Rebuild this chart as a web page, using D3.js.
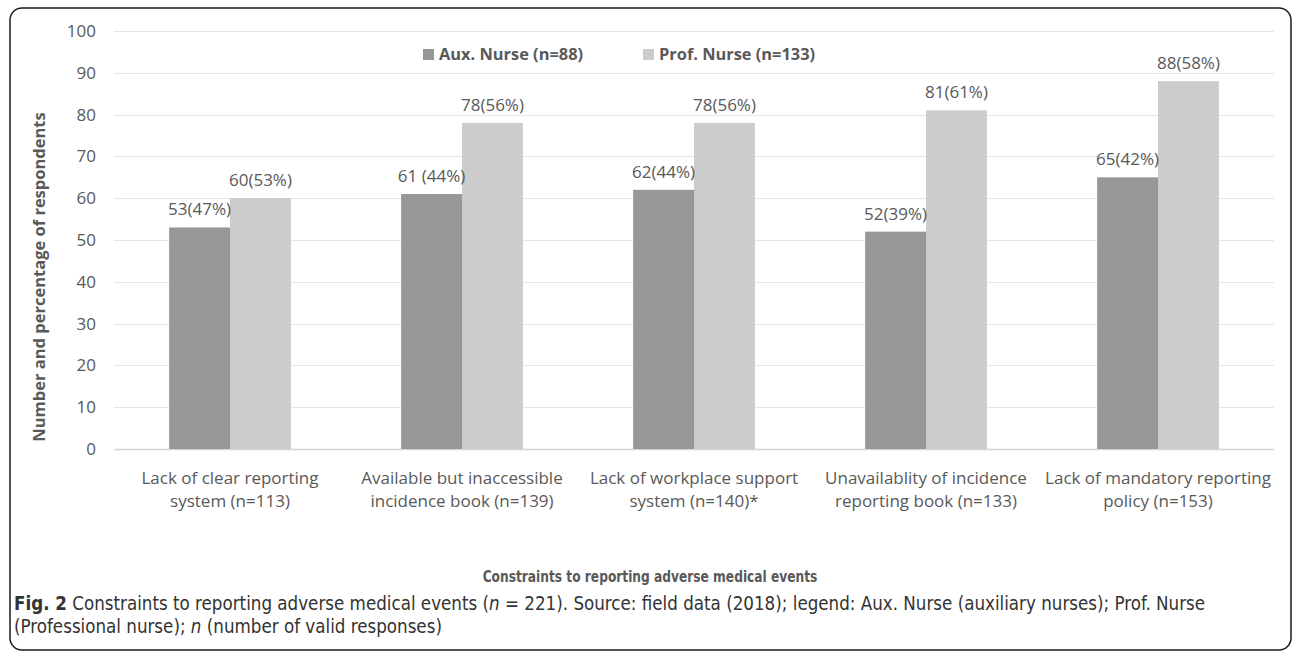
<!DOCTYPE html>
<html>
<head>
<meta charset="utf-8">
<script src="https://cdn.jsdelivr.net/npm/d3@7"></script>
<style>
  body { margin: 0; background: #fff; }
  text { font-family: "Open Sans", sans-serif; }
  .cap { font-family: "DejaVu Sans Condensed", "DejaVu Sans", sans-serif; font-stretch: condensed; }
</style>
</head>
<body>
<svg id="chart" width="1292" height="655"></svg>
<script>
const categories = [
  ["Lack of clear reporting", "system (n=113)"],
  ["Available but inaccessible", "incidence book (n=139)"],
  ["Lack of workplace support", "system (n=140)*"],
  ["Unavailablity of incidence", "reporting book (n=133)"],
  ["Lack of mandatory reporting", "policy (n=153)"]
];
const seriesNames = ["Aux. Nurse (n=88)", "Prof. Nurse (n=133)"];
const auxValues = [53, 61, 62, 52, 65];
const profValues = [60, 78, 78, 81, 88];
const auxLabels = ["53(47%)", "61 (44%)", "62(44%)", "52(39%)", "65(42%)"];
const profLabels = ["60(53%)", "78(56%)", "78(56%)", "81(61%)", "88(58%)"];
const yTicks = [0, 10, 20, 30, 40, 50, 60, 70, 80, 90, 100];

const colors = ["#979797", "#cbcccb"];
const textColor = "#595959";
const fs = "17px";

const svg = d3.select("#chart");
const margin = {top: 31, right: 16, bottom: 206, left: 114};
const W = 1292, H = 655;

// frame
svg.append("rect")
    .attr("x", 10).attr("y", 8)
    .attr("width", 1281).attr("height", 642)
    .attr("rx", 12)
    .attr("fill", "none")
    .attr("stroke", "#1a1a1a")
    .attr("stroke-width", 1.5);

const y = d3.scaleLinear()
    .domain([0, 100])
    .range([H - margin.bottom, margin.top]);

const x = d3.scaleBand()
    .domain(d3.range(categories.length))
    .range([margin.left, W - margin.right - 2])
    .paddingInner(0.475)
    .paddingOuter(0.2375);

const x1 = d3.scaleBand()
    .domain([0, 1])
    .range([0, x.bandwidth()]);

// gridlines
svg.append("g")
  .selectAll("line")
  .data(yTicks)
  .join("line")
    .attr("x1", margin.left)
    .attr("x2", W - margin.right - 2)
    .attr("y1", d => Math.round(y(d)) + 0.5)
    .attr("y2", d => Math.round(y(d)) + 0.5)
    .attr("stroke", d => d === 0 ? "#d4d4d4" : "#e5e5e5")
    .attr("stroke-width", d => d === 0 ? 1.5 : 1);

// y axis labels
const yAxis = d3.axisLeft(y).tickValues(yTicks).tickSize(0).tickPadding(0);
svg.append("g")
    .attr("transform", `translate(96,0)`)
    .call(yAxis)
    .call(g => g.select(".domain").remove())
    .call(g => g.selectAll("text")
        .attr("fill", textColor)
        .style("font-size", fs)
        .style("font-family", "'Open Sans', sans-serif"));

// bars
const data = categories.map((c, i) => [
  {s: 0, v: auxValues[i], label: auxLabels[i]},
  {s: 1, v: profValues[i], label: profLabels[i]}
]);

const groups = svg.append("g")
  .selectAll("g")
  .data(data)
  .join("g")
    .attr("transform", (d, i) => `translate(${x(i)},0)`);

groups.selectAll("rect")
  .data(d => d)
  .join("rect")
    .attr("x", d => x1(d.s))
    .attr("width", x1.bandwidth())
    .attr("y", d => y(d.v))
    .attr("height", d => y(0) - y(d.v))
    .attr("fill", d => colors[d.s]);

groups.selectAll("text.val")
  .data(d => d)
  .join("text")
    .attr("class", "val")
    .attr("x", d => x1(d.s) + x1.bandwidth() / 2)
    .attr("y", d => y(d.v) - 12)
    .attr("text-anchor", "middle")
    .attr("fill", textColor)
    .style("font-size", fs)
    .text(d => d.label);

// category labels
const cat = svg.append("g")
  .selectAll("text")
  .data(categories)
  .join("text")
    .attr("text-anchor", "middle")
    .attr("fill", textColor)
    .style("font-size", fs)
    .attr("transform", (d, i) => `translate(${x(i) + x.bandwidth() / 2},478)`);
cat.selectAll("tspan")
  .data(d => d)
  .join("tspan")
    .attr("x", 0)
    .attr("dy", (d, j) => j === 0 ? "0.35em" : "23")
    .text(d => d);

// y axis title
svg.append("text")
    .attr("transform", "translate(39,277) rotate(-90)")
    .attr("text-anchor", "middle")
    .attr("dy", "0.35em")
    .attr("fill", textColor)
    .style("font-size", "16.5px")
    .style("font-weight", "bold")
    .text("Number and percentage of respondents");

// legend
const legendX = [423, 643];
const legend = svg.append("g")
  .selectAll("g")
  .data(seriesNames)
  .join("g")
    .attr("transform", (d, i) => `translate(${legendX[i]},49)`);
legend.append("rect")
    .attr("width", 11).attr("height", 11)
    .attr("fill", (d, i) => colors[i]);
legend.append("text")
    .attr("x", 16)
    .attr("y", 11)
    .attr("fill", textColor)
    .style("font-size", "16.4px")
    .style("font-weight", "bold")
    .text(d => d);

// x axis title (condensed bold)
svg.append("text")
    .attr("class", "cap")
    .attr("transform", "translate(650,582) scale(0.85,1)")
    .attr("text-anchor", "middle")
    .attr("fill", textColor)
    .style("font-size", "16px")
    .style("font-weight", "bold")
    .text("Constraints to reporting adverse medical events");

// caption
const cap1 = svg.append("text")
    .attr("class", "cap")
    .attr("x", 14)
    .attr("y", 610)
    .attr("fill", "#333")
    .style("font-size", "18.6px");
cap1.append("tspan").style("font-weight", "bold").text("Fig. 2");
cap1.append("tspan").text(" Constraints to reporting adverse medical events (");
cap1.append("tspan").style("font-style", "italic").text("n");
cap1.append("tspan").text(" = 221). Source: field data (2018); legend: Aux. Nurse (auxiliary nurses); Prof. Nurse");

const cap2 = svg.append("text")
    .attr("class", "cap")
    .attr("x", 14)
    .attr("y", 633)
    .attr("fill", "#333")
    .style("font-size", "18.6px");
cap2.append("tspan").text("(Professional nurse); ");
cap2.append("tspan").style("font-style", "italic").text("n");
cap2.append("tspan").text(" (number of valid responses)");
</script>
</body>
</html>
